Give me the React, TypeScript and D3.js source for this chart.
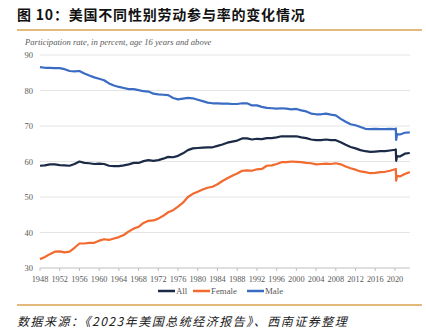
import React from "react";
import * as d3 from "d3";

const dates: number[] = [
  1948, 1949, 1950, 1951, 1952, 1953, 1954, 1955, 1956, 1957, 1958, 1959,
  1960, 1961, 1962, 1963, 1964, 1965, 1966, 1967, 1968, 1969, 1970, 1971,
  1972, 1973, 1974, 1975, 1976, 1977, 1978, 1979, 1980, 1981, 1982, 1983,
  1984, 1985, 1986, 1987, 1988, 1989, 1990, 1991, 1992, 1993, 1994, 1995,
  1996, 1997, 1998, 1999, 2000, 2001, 2002, 2003, 2004, 2005, 2006, 2007,
  2008, 2009, 2010, 2011, 2012, 2013, 2014, 2015, 2016, 2017, 2018, 2019,
  2020.0, 2020.17, 2020.25, 2020.42, 2021, 2022, 2023,
];

const allRate: number[] = [
  58.8, 58.9, 59.2, 59.2, 59.0, 58.9, 58.8, 59.3, 60.0, 59.6, 59.5, 59.3,
  59.4, 59.3, 58.8, 58.7, 58.7, 58.9, 59.2, 59.6, 59.6, 60.1, 60.4, 60.2,
  60.4, 60.8, 61.3, 61.2, 61.6, 62.3, 63.2, 63.7, 63.8, 63.9, 64.0, 64.0,
  64.4, 64.8, 65.3, 65.6, 65.9, 66.5, 66.5, 66.2, 66.4, 66.3, 66.6, 66.6,
  66.8, 67.1, 67.1, 67.1, 67.1, 66.8, 66.6, 66.2, 66.0, 66.0, 66.2, 66.0,
  66.0, 65.4, 64.7, 64.1, 63.7, 63.2, 62.9, 62.7, 62.8, 62.9, 62.9, 63.1,
  63.3, 63.4, 60.2, 61.5, 61.4, 62.2, 62.4,
];

const femaleRate: number[] = [
  32.5, 33.1, 33.9, 34.6, 34.7, 34.4, 34.6, 35.7, 36.9, 36.9, 37.1, 37.1,
  37.7, 38.1, 37.9, 38.3, 38.7, 39.3, 40.3, 41.1, 41.6, 42.7, 43.3, 43.4,
  43.9, 44.7, 45.7, 46.3, 47.3, 48.4, 50.0, 50.9, 51.5, 52.1, 52.6, 52.9,
  53.6, 54.5, 55.3, 56.0, 56.6, 57.4, 57.5, 57.4, 57.8, 57.9, 58.8, 58.9,
  59.3, 59.8, 59.8, 60.0, 59.9, 59.8, 59.6, 59.5, 59.2, 59.3, 59.4, 59.3,
  59.5, 59.2, 58.6, 58.1, 57.7, 57.2, 57.0, 56.7, 56.8, 57.0, 57.1, 57.4,
  57.8, 57.9, 54.6, 56.0, 55.8, 56.5, 57.0,
];

const maleRate: number[] = [
  86.6, 86.4, 86.4, 86.3, 86.3, 86.0, 85.5, 85.4, 85.5, 84.8, 84.2, 83.7,
  83.3, 82.9, 82.0, 81.4, 81.0, 80.7, 80.4, 80.4, 80.1, 79.8, 79.7, 79.1,
  78.9, 78.8, 78.7, 77.9, 77.5, 77.7, 77.9, 77.8, 77.4, 77.0, 76.6, 76.4,
  76.4, 76.3, 76.3, 76.2, 76.2, 76.4, 76.4, 75.8, 75.8, 75.4, 75.1, 75.0,
  74.9, 75.0, 74.9, 74.7, 74.8, 74.4, 74.1, 73.5, 73.3, 73.3, 73.5, 73.2,
  73.0, 72.0, 71.2, 70.5, 70.2, 69.7, 69.2, 69.1, 69.2, 69.1, 69.1, 69.2,
  69.1, 69.3, 66.1, 67.7, 67.6, 68.1, 68.2,
];

const yTicks: number[] = [30, 40, 50, 60, 70, 80, 90];
const xTicks: number[] = d3.range(1948, 2021, 4);

const seriesNames: string[] = ["All", "Female", "Male"];
const seriesColors: string[] = ["#1b2a47", "#f26a2e", "#3a6cc4"];

const titleText = "图 10：美国不同性别劳动参与率的变化情况";
const subtitleText = "Participation rate, in percent, age 16 years and above";
const sourceText = "数据来源：《2023年美国总统经济报告》、西南证券整理";

export default function App() {
  const W = 426;
  const H = 336;
  const x = d3.scaleLinear().domain([1948, 2023.05]).range([40, 410]);
  const y = d3.scaleLinear().domain([30, 90]).range([268, 55]);
  const seriesData = [allRate, femaleRate, maleRate];
  const line = d3
    .line<number>()
    .x((_, i) => x(dates[i]))
    .y((v) => y(v));

  const serif = "'Liberation Serif', 'DejaVu Serif', serif";
  const cjk = "'Noto Sans CJK SC', sans-serif";
  const legendX = [158, 193, 247];

  return (
    <svg
      width={W}
      height={H}
      style={{ position: "absolute", left: 0, top: 0, background: "#fff" }}
    >
      <rect x={0} y={0} width={W} height={H} fill="#fff" />
      <text
        x={17}
        y={20}
        fontFamily={cjk}
        fontWeight={700}
        fontSize={14}
        letterSpacing={0.8}
        fill="#111"
      >
        {titleText}
      </text>
      <line x1={17} x2={422} y1={30} y2={30} stroke="#dba253" strokeWidth={1.5} />
      <text x={25} y={45} fontFamily={serif} fontStyle="italic" fontSize={8.6} fill="#595959">
        {subtitleText}
      </text>

      {yTicks.map((t) => (
        <g key={t}>
          {t !== 30 && (
            <line x1={40} x2={410} y1={y(t)} y2={y(t)} stroke="#e4e4e4" strokeWidth={1} />
          )}
          <text
            x={33}
            y={y(t) + 3}
            textAnchor="end"
            fontFamily={serif}
            fontSize={8.5}
            fill="#595959"
          >
            {t}
          </text>
        </g>
      ))}
      <line x1={40} x2={410} y1={y(30)} y2={y(30)} stroke="#bfbfbf" strokeWidth={1} />
      {xTicks.map((t) => (
        <g key={t}>
          <line x1={x(t)} x2={x(t)} y1={y(30)} y2={y(30) + 3} stroke="#bfbfbf" />
          <text
            x={x(t)}
            y={y(30) + 14}
            textAnchor="middle"
            fontFamily={serif}
            fontSize={8.3}
            fill="#595959"
          >
            {t}
          </text>
        </g>
      ))}

      {seriesData.map((s, i) => (
        <path
          key={seriesNames[i]}
          d={line(s) || ""}
          fill="none"
          stroke={seriesColors[i]}
          strokeWidth={2.2}
          strokeLinejoin="round"
        />
      ))}

      {seriesNames.map((n, i) => (
        <g key={n}>
          <line
            x1={legendX[i]}
            x2={legendX[i] + 17}
            y1={291}
            y2={291}
            stroke={seriesColors[i]}
            strokeWidth={2.5}
          />
          <text x={legendX[i] + 18} y={294} fontFamily={serif} fontSize={8.8} fill="#595959">
            {n}
          </text>
        </g>
      ))}

      <line x1={17} x2={422} y1={305} y2={305} stroke="#dba253" strokeWidth={1.5} />
      <text
        x={17}
        y={326}
        fontFamily={cjk}
        fontStyle="italic"
        fontSize={12}
        letterSpacing={1.5}
        fill="#222"
      >
        {sourceText}
      </text>
    </svg>
  );
}
